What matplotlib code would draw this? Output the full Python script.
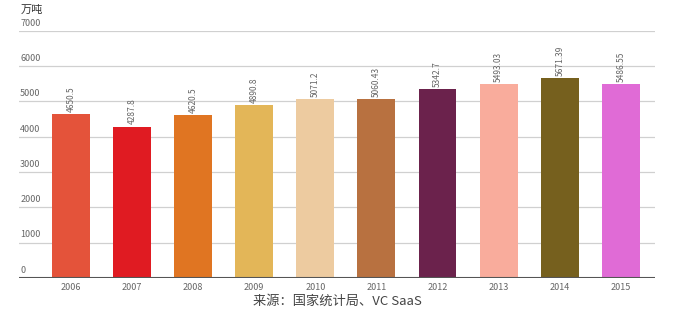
import matplotlib.pyplot as plt
import matplotlib.transforms as mtransforms

plt.rcParams['font.family'] = ['Noto Sans CJK SC', 'DejaVu Sans']

years = ['2006', '2007', '2008', '2009', '2010', '2011', '2012', '2013', '2014', '2015']
values = [4650.5, 4287.8, 4620.5, 4890.8, 5071.2, 5060.43, 5342.7, 5493.03, 5671.39, 5486.55]
labels = ['4650.5', '4287.8', '4620.5', '4890.8', '5071.2', '5060.43', '5342.7', '5493.03', '5671.39', '5486.55']
colors = ['#E4533A', '#E01B22', '#E07522', '#E3B658', '#EDCBA0',
          '#B87140', '#6B224C', '#F9AC9C', '#76601E', '#E06BD6']
yticks = [0, 1000, 2000, 3000, 4000, 5000, 6000, 7000]

fig = plt.figure(figsize=(6.74, 3.22), dpi=100)
ax = fig.add_axes([0.028, 0.137, 0.944, 0.767])

x = range(len(years))
ax.bar(x, values, width=0.62, color=colors, zorder=3)

for xi, v, lab in zip(x, values, labels):
    ax.text(xi, v + 60, lab, rotation=90, ha='center', va='bottom',
            fontsize=6, color='#666666', zorder=4)

ax.set_xlim(-0.85, 9.56)
ax.set_ylim(0, 7000)

for t in yticks[1:]:
    ax.axhline(t, color='#D0D0D0', linewidth=0.9, zorder=1)
ax.axhline(0, color='#555555', linewidth=1.5, zorder=4)

trans = mtransforms.blended_transform_factory(ax.transAxes, ax.transData)
for t in yticks:
    ax.text(0.002, t + 90, str(t), transform=trans, ha='left', va='bottom',
            fontsize=6.5, color='#666666')

ax.set_yticks([])
ax.set_xticks(list(x))
ax.set_xticklabels(years, fontsize=6.5, color='#666666')
ax.tick_params(axis='x', length=0, pad=4)
for s in ax.spines.values():
    s.set_visible(False)

fig.text(0.03, 0.968, '万吨', fontsize=8, color='#333333', ha='left', va='center')
fig.text(0.5, 0.065, '来源：国家统计局、VC SaaS', fontsize=9.5, color='#444444',
         ha='center', va='center')

fig.savefig('out.png', dpi=100)
